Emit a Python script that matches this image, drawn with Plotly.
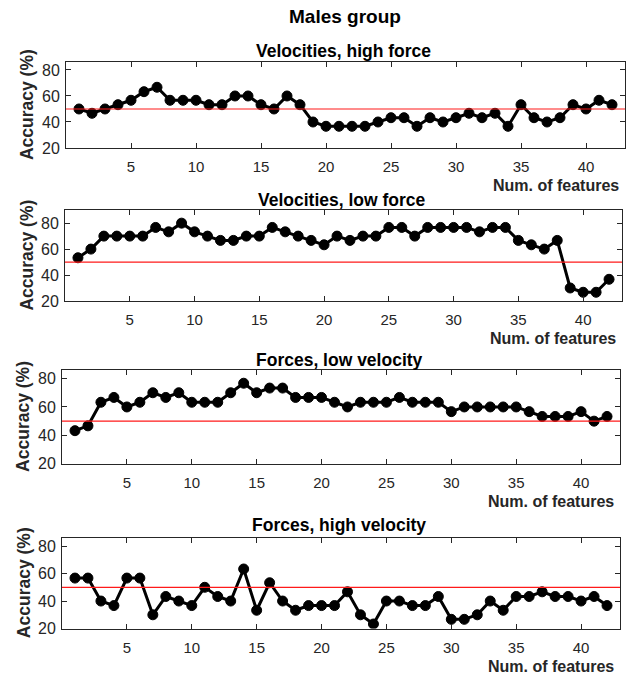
import plotly.graph_objects as go

# ---------------- data ----------------
features = list(range(1, 43))

vel_high_force = [50, 46.7, 50, 53.3, 56.7, 63.3, 66.7, 56.7, 56.7, 56.7,
                  53.3, 53.3, 60, 60, 53.3, 50, 60, 53.3, 40, 36.7,
                  36.7, 36.7, 36.7, 40, 43.3, 43.3, 36.7, 43.3, 40, 43.3,
                  46.7, 43.3, 46.7, 36.7, 53.3, 43.3, 40, 43.3, 53.3, 50,
                  56.7, 53.3]

vel_low_force = [53.3, 60, 70, 70, 70, 70, 76.7, 73.3, 80, 73.3,
                 70, 66.7, 66.7, 70, 70, 76.7, 73.3, 70, 66.7, 63.3,
                 70, 66.7, 70, 70, 76.7, 76.7, 70, 76.7, 76.7, 76.7,
                 76.7, 73.3, 76.7, 76.7, 66.7, 63.3, 60, 66.7, 30, 26.7,
                 26.7, 36.7]

force_low_vel = [43.3, 46.7, 63.3, 66.7, 60, 63.3, 70, 66.7, 70, 63.3,
                 63.3, 63.3, 70, 76.7, 70, 73.3, 73.3, 66.7, 66.7, 66.7,
                 63.3, 60, 63.3, 63.3, 63.3, 66.7, 63.3, 63.3, 63.3, 56.7,
                 60, 60, 60, 60, 60, 56.7, 53.3, 53.3, 53.3, 56.7,
                 50, 53.3]

force_high_vel = [56.7, 56.7, 40, 36.7, 56.7, 56.7, 30, 43.3, 40, 36.7,
                  50, 43.3, 40, 63.3, 33.3, 53.3, 40, 33.3, 36.7, 36.7,
                  36.7, 46.7, 30, 23.3, 40, 40, 36.7, 36.7, 43.3, 26.7,
                  26.7, 30, 40, 33.3, 43.3, 43.3, 46.7, 43.3, 43.3, 40,
                  43.3, 36.7]

chance_level = 50

series = [vel_high_force, vel_low_force, force_low_vel, force_high_vel]
titles = ["Velocities, high force", "Velocities, low force",
          "Forces, low velocity", "Forces, high velocity"]
main_title = "Males group"
x_label = "Num. of features"
y_label = "Accuracy (%)"
x_ticks = [5, 10, 15, 20, 25, 30, 35, 40]
y_ticks = [20, 40, 60, 80]

# ---------------- layout helpers ----------------
W, H = 631, 678
FONT = "Liberation Sans, Arial, Helvetica, sans-serif"
AX = "#262626"

def px(x):
    return x / W

def py(y):
    return 1 - y / H

# pixel boxes: (left, right, top, bottom), y-range
boxes = [(66, 625, 63, 150), (65, 622, 213, 305),
         (62, 620, 375, 470), (62, 620, 545, 637)]
yranges = [[20, 86], [20, 90], [20, 86], [20, 86]]
title_y = [52, 203, 365, 532]
ylab_x = [27, 27, 23, 24]

fig = go.Figure()
annotations = []
shapes = []

annotations.append(dict(text="<b>%s</b>" % main_title, x=px(345), y=py(17),
                        xref="paper", yref="paper", showarrow=False,
                        xanchor="center", yanchor="middle",
                        font=dict(family=FONT, size=19, color="black")))

for i, (vals, ttl) in enumerate(zip(series, titles)):
    n = i + 1
    xa = "x" if n == 1 else "x%d" % n
    ya = "y" if n == 1 else "y%d" % n
    l, r, t, b = boxes[i]
    fig.add_trace(go.Scatter(
        x=features, y=vals, xaxis=xa, yaxis=ya, mode="lines+markers",
        line=dict(color="black", width=3),
        marker=dict(symbol="circle", size=10, color="black",
                    line=dict(color="black", width=1)),
        showlegend=False, hoverinfo="skip"))
    common = dict(showline=True, linecolor=AX, linewidth=1, mirror="ticks",
                  ticks="inside", ticklen=5, tickcolor=AX, tickwidth=1,
                  showgrid=False, zeroline=False)
    fig.layout["xaxis" if n == 1 else "xaxis%d" % n] = dict(
        domain=[px(l), px(r)], range=[0, 43], tickvals=x_ticks,
        anchor=ya, ticklabelstandoff=5,
        tickfont=dict(family=FONT, size=15, color=AX), **common)
    fig.layout["yaxis" if n == 1 else "yaxis%d" % n] = dict(
        domain=[py(b), py(t)], range=yranges[i], tickvals=y_ticks,
        anchor=xa, ticklabelstandoff=2,
        tickfont=dict(family=FONT, size=16, color=AX), **common)
    shapes.append(dict(type="line", xref="%s domain" % xa, yref=ya,
                       x0=0, x1=1, y0=chance_level, y1=chance_level,
                       line=dict(color="#ff1a1a", width=1.2), layer="above"))
    annotations.append(dict(text="<b>%s</b>" % ttl, x=px((l + r) / 2 - 2),
                            y=py(title_y[i]), xref="paper", yref="paper",
                            showarrow=False, xanchor="center", yanchor="middle",
                            font=dict(family=FONT, size=17.5, color="black")))
    annotations.append(dict(text="<b>%s</b>" % x_label, x=px(r - 4),
                            y=py(b + 38), xref="paper", yref="paper",
                            showarrow=False, xanchor="right", yanchor="middle",
                            font=dict(family=FONT, size=16, color=AX)))
    annotations.append(dict(text="<b>%s</b>" % y_label, x=px(ylab_x[i]),
                            y=py((t + b) / 2), xref="paper", yref="paper",
                            showarrow=False, xanchor="center", yanchor="middle",
                            textangle=-90,
                            font=dict(family=FONT, size=17.5, color=AX)))

fig.update_layout(width=W, height=H, margin=dict(l=0, r=0, t=0, b=0),
                  paper_bgcolor="white", plot_bgcolor="white",
                  annotations=annotations, shapes=shapes)

fig.write_html("out.html")
